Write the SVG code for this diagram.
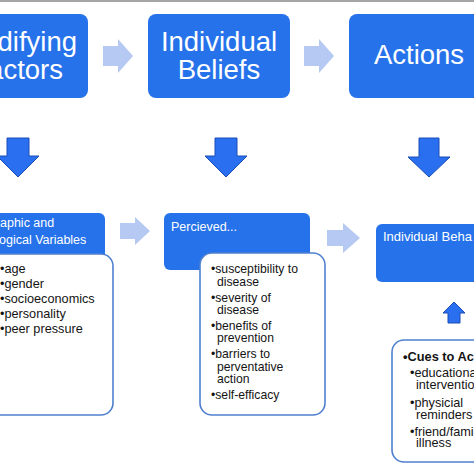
<svg xmlns="http://www.w3.org/2000/svg" width="474" height="474" viewBox="0 0 474 474">
<style>
.blue{fill:#2672ea}
.card{fill:#ffffff;stroke:#4f80cf;stroke-width:1.6}
.light{fill:#b5c9f2}
.down{fill:#2a6ff0;stroke:#1b4fb5;stroke-width:1}
.t{font-family:"Liberation Sans",Arial,Helvetica,sans-serif}
.big{font-size:27.5px;fill:#ffffff}
.wt{fill:#ffffff}
.bk{fill:#141414}
</style>
<rect x="0" y="0" width="474" height="474" fill="#ffffff"/>
<rect x="0" y="0" width="474" height="2" fill="#a5a5a5"/>

<g id="connectors">
  <path class="light" d="M103,46 H118 V39 L133,56 L118,73 V66 H103 Z"/>
  <path class="light" d="M304,46 H319 V39 L334,56 L319,73 V66 H304 Z"/>
  <path class="light" d="M120,223 H135 V217 L150,231 L135,245 V239 H120 Z"/>
  <path class="light" d="M327,230 H343 V223 L360,238 L343,253 V246 H327 Z"/>
  <path class="down" d="M7,138 H29 V156 H39 L18,177 L-3,156 H7 Z"/>
  <path class="down" d="M215,138 H237 V156 H247 L226,177 L205,156 H215 Z"/>
  <path class="down" d="M419,138 H439 V157 H450 L429,177 L408,157 H419 Z"/>
  <path class="down" d="M448,323 H460 V313 H465 L454,302 L443,313 H448 Z"/>
</g>

<g id="modifying-factors">
  <rect class="blue" x="-60" y="14" width="148" height="84" rx="8"/>
  <text class="t big" x="77" y="51" text-anchor="end">difying</text>
  <text class="t big" x="63" y="79" text-anchor="end">actors</text>
</g>

<g id="individual-beliefs">
  <rect class="blue" x="148" y="14" width="142" height="84" rx="8"/>
  <text class="t big" x="219" y="51" text-anchor="middle">Individual</text>
  <text class="t big" x="219" y="79" text-anchor="middle">Beliefs</text>
</g>

<g id="actions">
  <rect class="blue" x="349" y="14" width="150" height="84" rx="8"/>
  <text class="t big" x="419" y="64" text-anchor="middle">Actions</text>
</g>

<g id="demographic">
  <rect class="blue" x="-20" y="213" width="125" height="50" rx="6"/>
  <text class="t wt" x="0" y="227" font-size="12.5">aphic and</text>
  <text class="t wt" x="-1" y="244" font-size="12.5">ogical Variables</text>
  <rect class="card" x="-20" y="254" width="133" height="161" rx="12"/>
  <g class="t bk" font-size="12.7">
    <text x="0" y="273">•age</text>
    <text x="0" y="288">•gender</text>
    <text x="0" y="303">•socioeconomics</text>
    <text x="0" y="318">•personality</text>
    <text x="0" y="333">•peer pressure</text>
  </g>
</g>

<g id="perceived">
  <rect class="blue" x="164" y="213" width="146" height="57" rx="6"/>
  <text class="t wt" x="171" y="231" font-size="12.5">Percieved...</text>
  <rect class="card" x="200" y="253" width="125" height="162" rx="12"/>
  <g class="t bk" font-size="12.2">
    <text x="211" y="273">•susceptibility to</text>
    <text x="217" y="286">disease</text>
    <text x="211" y="302">•severity of</text>
    <text x="217" y="314">disease</text>
    <text x="211" y="330">•benefits of</text>
    <text x="217" y="342">prevention</text>
    <text x="211" y="358">•barriers to</text>
    <text x="217" y="371">perventative</text>
    <text x="217" y="383">action</text>
    <text x="211" y="399">•self-efficacy</text>
  </g>
</g>

<g id="individual-behavior">
  <rect class="blue" x="376" y="224" width="130" height="58" rx="6"/>
  <text class="t wt" x="383" y="241" font-size="13">Individual Beha</text>
</g>

<g id="cues-to-action">
  <rect class="card" x="392" y="340" width="120" height="122" rx="12"/>
  <text class="t bk" x="403" y="361" font-size="12.8" font-weight="bold">•Cues to Ac</text>
  <g class="t bk" font-size="12.7">
    <text x="410" y="377">•educationa</text>
    <text x="416" y="389">interventio</text>
    <text x="410" y="407">•physicial</text>
    <text x="416" y="419">reminders</text>
    <text x="410" y="436">•friend/fami</text>
    <text x="416" y="447">illness</text>
  </g>
</g>
</svg>
